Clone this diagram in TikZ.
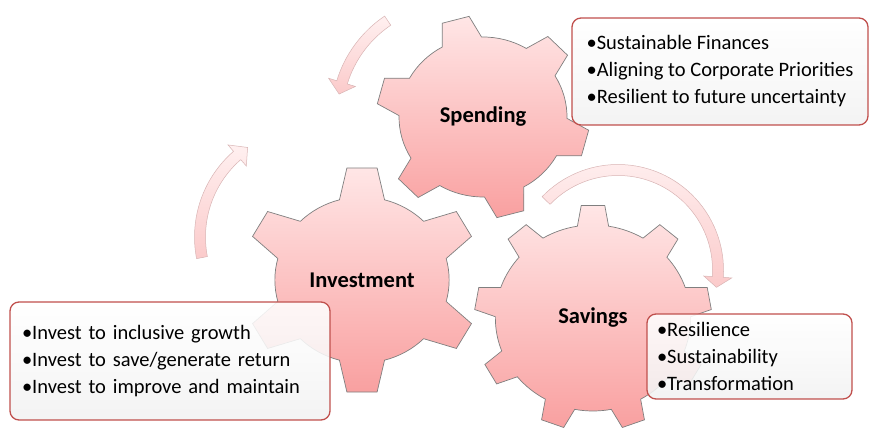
\documentclass[tikz,border=0pt]{standalone}
\usepackage{fontspec}
\setmainfont{Carlito}
\usepackage{tikz}
\usetikzlibrary{calc}

\definecolor{gearlight}{HTML}{FFE6E6}
\definecolor{geardark}{HTML}{F9A0A0}
\definecolor{gearline}{HTML}{7F7F7F}
\definecolor{boxline}{HTML}{C0504D}
\definecolor{arrowlight}{HTML}{FFF0F0}
\definecolor{arrowdark}{HTML}{FBCACA}
\definecolor{arrowline}{HTML}{D8B4B4}

\tikzset{
	gear/.style={draw=gearline,line width=0.7pt,top color=gearlight,bottom color=geardark},
	turn/.style={draw=arrowline,line width=0.5pt,top color=arrowlight,bottom color=arrowdark},
	callout/.style={draw=boxline,line width=1.3pt,rounded corners=9pt,top color=white,bottom color=black!5,fill opacity=0.88,text opacity=1,align=left,inner xsep=12pt,font=\fontsize{20.5}{27}\selectfont},
	gearlabel/.style={font=\bfseries\fontsize{22.5}{27}\selectfont}
}

% centre, teeth, first tooth angle, outer radius, body radius, tip half angle, base half angle
\newcommand{\drawgear}[7]{
	\begin{scope}[shift={(#1)},xscale=1.05]
		\draw[gear] ({#3-#7}:#5)
		\foreach \k [evaluate=\k as \a using #3+(\k-1)*360/#2] in {1,...,#2}{
			-- ({\a-#6}:#4) -- ({\a+#6}:#4) -- ({\a+#7}:#5)
			arc[start angle={\a+#7},end angle={\a+360/#2-#7},radius=#5]
		} -- cycle;
	\end{scope}
}

% centre, radius, tail angle, head angle, tip angle
\newcommand{\drawturn}[5]{
	\draw[turn] ($(#1)+({#3}:{#2+5.5})$) arc[start angle=#3,end angle=#4,radius=#2+5.5]
		-- ($(#1)+({#4}:{#2+14})$) -- ($(#1)+({#5}:{#2})$) -- ($(#1)+({#4}:{#2-14})$)
		-- ($(#1)+({#4}:{#2-5.5})$) arc[start angle=#4,end angle=#3,radius=#2-5.5] -- cycle;
}

\begin{document}
\begin{tikzpicture}[x=1pt,y=1pt]
		\useasboundingbox (0,0) rectangle (869,430);

		\coordinate (spend) at (483,313);
		\coordinate (invest) at (362,150);
		\coordinate (save) at (593,112);

		\coordinate (turnA) at (452,314);
		\coordinate (turnB) at (308,193);
		\coordinate (turnC) at (618,160);

		\drawturn{turnA}{115}{124}{163}{169}
		\drawturn{turnB}{108}{191}{131}{124}
		\drawturn{turnC}{100}{136}{-4}{-10}

		\drawgear{spend}{6}{45}{101.5}{80}{7.5}{14}
		\drawgear{invest}{6}{90}{113}{83}{7.3}{15}
		\drawgear{save}{9}{90}{113}{93}{5.7}{9.2}

		\node[gearlabel] (spendlabel) at (spend) {Spending};
		\node[gearlabel] (investlabel) at (invest) {Investment};
		\node[gearlabel] (savelabel) at (save) {Savings};

		\node[callout,minimum width=296pt,minimum height=107pt] (spendnote) at (720,358.5) {•Sustainable Finances\\•Aligning to Corporate Priorities\\•Resilient to future uncertainty};
		\node[callout,minimum width=320pt,minimum height=118pt,text width=296pt] (investnote) at (170,69) {•Invest to inclusive growth\\•Invest to save/generate return\\•Invest to improve and maintain};
		\node[callout,minimum width=205pt,minimum height=85pt,text width=185pt,inner xsep=10pt] (savenote) at (749.5,73.5) {•Resilience\\•Sustainability\\•Transformation};
\end{tikzpicture}
\end{document}
